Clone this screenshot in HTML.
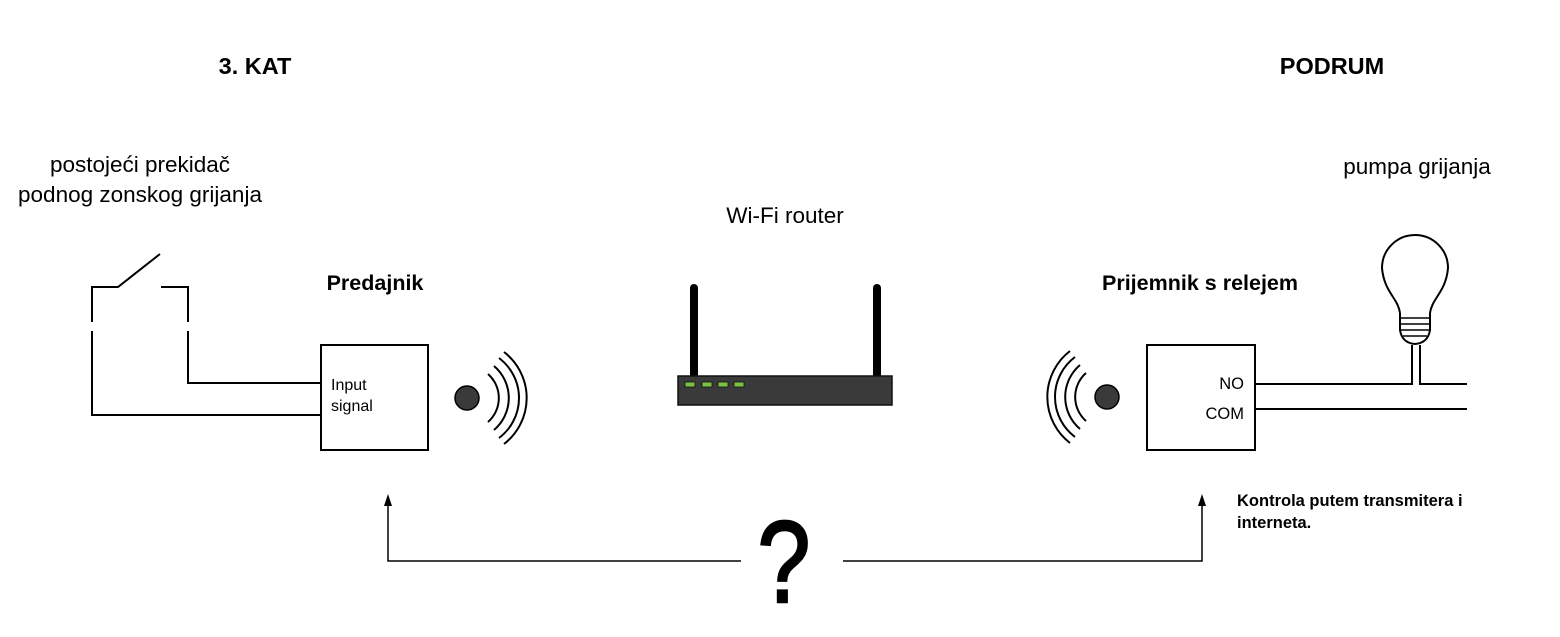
<!DOCTYPE html>
<html><head><meta charset="utf-8"><style>
html,body{margin:0;padding:0;background:#fff}
svg{display:block}
text{font-family:"Liberation Sans",Arial,sans-serif;fill:#000}
</style></head><body>
<svg width="1560" height="637" viewBox="0 0 1560 637" xmlns="http://www.w3.org/2000/svg">
<g stroke="#000" stroke-width="2" fill="none">
<polyline points="92,322 92,287 118,287 160,254"/>
<polyline points="161,287 188,287 188,322"/>
<polyline points="92,331 92,415 321,415"/>
<polyline points="188,331 188,383 321,383"/>
<rect x="321" y="345" width="107" height="105"/>
<path d="M488,374 A32,32 0 0 1 488,422"/>
<path d="M494,366 A42,42 0 0 1 494,430"/>
<path d="M499,358 A50,50 0 0 1 499,438"/>
<path d="M504,352 A58,58 0 0 1 504,444"/>
<rect x="1147" y="345" width="108" height="105"/>
<polyline points="1255,384 1412,384 1412,345"/>
<polyline points="1420,345 1420,384 1467,384"/>
<line x1="1255" y1="409" x2="1467" y2="409"/>
<path d="M1086,373 A32,32 0 0 0 1086,421"/>
<path d="M1080,365 A42,42 0 0 0 1080,429"/>
<path d="M1075,357 A50,50 0 0 0 1075,437"/>
<path d="M1070,351 A58,58 0 0 0 1070,443"/>
<path d="M1400,313 C1398,298 1384,292 1382,268 A33,33 0 1 1 1448,268 C1446,292 1432,298 1430,313"/>
<path d="M1400,313 L1400,330 Q1402,343 1415,344 Q1428,343 1430,330 L1430,313"/>
<line x1="1400" y1="318" x2="1430" y2="318" stroke-width="1.5"/>
<line x1="1400" y1="324" x2="1430" y2="324" stroke-width="1.5"/>
<line x1="1401" y1="330" x2="1429" y2="330" stroke-width="1.5"/>
<line x1="1403" y1="336" x2="1427" y2="336" stroke-width="1.5"/>
<polyline points="388,502 388,561 741,561" stroke-width="1.5"/>
<polyline points="843,561 1202,561 1202,502" stroke-width="1.5"/>
</g>
<polygon points="388,494 384,506 392,506" fill="#000"/>
<polygon points="1202,494 1198,506 1206,506" fill="#000"/>
<circle cx="467" cy="398" r="12" fill="#3a3a3a" stroke="#000" stroke-width="1.5"/>
<circle cx="1107" cy="397" r="12" fill="#3a3a3a" stroke="#000" stroke-width="1.5"/>
<line x1="694" y1="288" x2="694" y2="376" stroke="#000" stroke-width="8" stroke-linecap="round"/>
<line x1="877" y1="288" x2="877" y2="376" stroke="#000" stroke-width="8" stroke-linecap="round"/>
<rect x="678" y="376" width="214" height="29" fill="#3a3a3a" stroke="#111" stroke-width="1.5"/>
<rect x="685" y="382" width="10" height="5" fill="#7ac142" stroke="#111" stroke-width="0.8"/>
<rect x="702" y="382" width="10" height="5" fill="#7ac142" stroke="#111" stroke-width="0.8"/>
<rect x="718" y="382" width="10" height="5" fill="#7ac142" stroke="#111" stroke-width="0.8"/>
<rect x="734" y="382" width="10" height="5" fill="#7ac142" stroke="#111" stroke-width="0.8"/>
<text x="255" y="74" font-size="23.5" font-weight="bold" text-anchor="middle">3. KAT</text>
<text x="1332" y="74" font-size="23.5" font-weight="bold" text-anchor="middle">PODRUM</text>
<text x="140" y="172" font-size="22.5" text-anchor="middle">postojeći prekidač</text>
<text x="140" y="202" font-size="22.5" text-anchor="middle">podnog zonskog grijanja</text>
<text x="785" y="223" font-size="22.5" text-anchor="middle">Wi-Fi router</text>
<text x="1417" y="174" font-size="22.5" text-anchor="middle">pumpa grijanja</text>
<text x="375" y="290" font-size="21.5" font-weight="bold" text-anchor="middle">Predajnik</text>
<text x="1200" y="290" font-size="21.5" font-weight="bold" text-anchor="middle">Prijemnik s relejem</text>
<text x="331" y="390" font-size="16">Input</text>
<text x="331" y="411" font-size="16">signal</text>
<text x="1244" y="389" font-size="16.5" text-anchor="end">NO</text>
<text x="1244" y="419" font-size="16.5" text-anchor="end">COM</text>
<text x="1237" y="506" font-size="16.5" font-weight="bold">Kontrola putem transmitera i</text>
<text x="1237" y="528" font-size="16.5" font-weight="bold">interneta.</text>
<text transform="translate(784,602) scale(0.82,1)" x="0" y="0" font-size="116" text-anchor="middle" stroke="#000" stroke-width="2.5">?</text>
</svg>
</body></html>
